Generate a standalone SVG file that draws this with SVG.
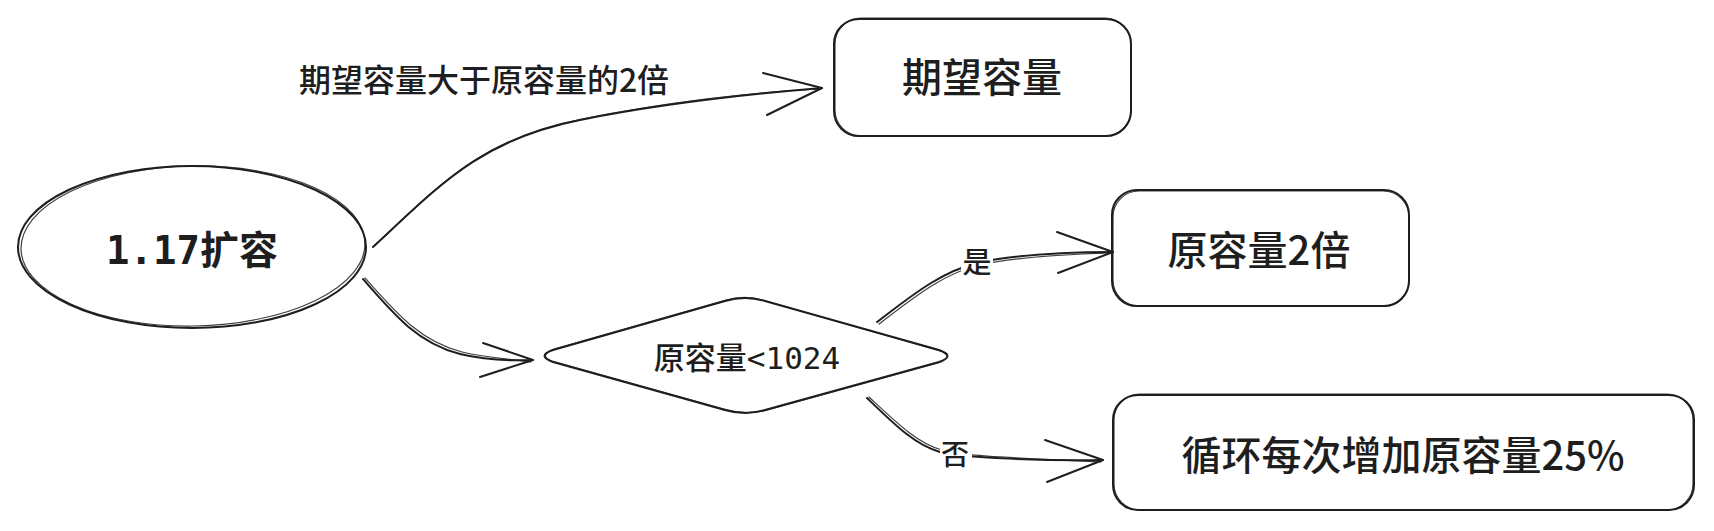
<svg xmlns="http://www.w3.org/2000/svg" width="1714" height="531" viewBox="0 0 1714 531">
<style>
.sk{fill:none;stroke:#1e1e1e;stroke-width:2;stroke-linecap:round;stroke-linejoin:round}
.sk2{fill:none;stroke:#1e1e1e;stroke-width:1.2;stroke-linecap:round;stroke-linejoin:round;opacity:.85}
.bg{fill:#ffffff}
.t{fill:#1e1e1e;font-family:"Noto Sans CJK SC","Noto Sans",sans-serif;text-anchor:middle;font-weight:500}
.m{fill:#1e1e1e;font-family:"DejaVu Sans Mono","Noto Sans CJK SC",monospace;text-anchor:middle}
</style>
<rect width="1714" height="531" fill="#ffffff"/>
<g id="connectors">
  <g id="e1">
    <path class="sk" d="M373,247 C440,185 480,140 580,120 C660,104 750,94 822,88"/>
    <path class="sk2" d="M375,245 C441,184 482,138 582,119 C662,103 751,92 820,89"/>
    <path class="sk" d="M763,73 L822,88 L767,115"/>
    <text class="t" x="484" y="92" font-size="32">期望容量大于原容量的2倍</text>
  </g>
  <g id="e2">
    <path class="sk" d="M363,279 C395,316 418,343 460,354 C485,360 510,361 533,360"/>
    <path class="sk2" d="M365,278 C397,314 420,341 462,352 C487,358 512,359 531,362"/>
    <path class="sk" d="M483,343 L533,360 L480,377"/>
  </g>
  <g id="e3">
    <path class="sk" d="M877,322 C910,297 940,272 977,263 C1020,254 1070,252 1113,252"/>
    <path class="sk2" d="M879,324 C912,299 942,274 979,265 C1022,256 1071,254 1111,253"/>
    <path class="sk" d="M1057,232 L1113,252 L1058,273"/>
    <rect class="bg" x="961" y="244" width="32" height="34"/>
    <text class="t" x="977" y="273" font-size="29">是</text>
  </g>
  <g id="e4">
    <path class="sk" d="M867,398 C895,425 915,445 940,452 C960,458 1050,461 1103,460"/>
    <path class="sk2" d="M869,397 C897,423 917,443 942,450 C962,457 1051,459 1101,462"/>
    <path class="sk" d="M1045,440 L1103,460 L1047,482"/>
    <rect class="bg" x="940" y="436" width="32" height="34"/>
    <text class="t" x="955" y="465" font-size="28">否</text>
  </g>
</g>
<g id="n-start">
  <ellipse class="sk" cx="192" cy="247" rx="174" ry="81"/>
  <ellipse class="sk2" cx="193" cy="246" rx="172" ry="80" transform="rotate(-1 193 246)"/>
  <text class="m" x="192" y="264" font-size="39" font-weight="bold">1.17扩容</text>
</g>
<g id="n-expected">
  <rect class="sk" x="834" y="19" width="297" height="117" rx="25"/>
  <rect class="sk2" x="835" y="18" width="296" height="118" rx="26"/>
  <text class="t" x="982" y="92" font-size="40">期望容量</text>
</g>
<g id="n-decision">
  <path class="sk" d="M553,350 L725,301 Q745,295 765,301 L939,350 Q956,356 939,362 L765,410 Q745,416 725,410 L553,362 Q536,356 553,350 Z"/>
  <path class="sk2" d="M554,349 L726,300 Q746,294 766,301 L940,351 Q955,357 938,363 L764,411 Q744,415 724,409 L552,361 Q538,355 554,349 Z"/>
  <text class="m" x="747" y="369" font-size="31" font-weight="500">原容量&lt;1024</text>
</g>
<g id="n-double">
  <rect class="sk" x="1112" y="190" width="297" height="116" rx="25"/>
  <rect class="sk2" x="1113" y="191" width="296" height="115" rx="26"/>
  <text class="t" x="1259" y="265" font-size="40">原容量2倍</text>
</g>
<g id="n-loop">
  <rect class="sk" x="1113" y="395" width="581" height="115" rx="25"/>
  <rect class="sk2" x="1114" y="394" width="579" height="116" rx="26"/>
  <text class="t" x="1403" y="470" font-size="40">循环每次增加原容量25%</text>
</g>
</svg>
